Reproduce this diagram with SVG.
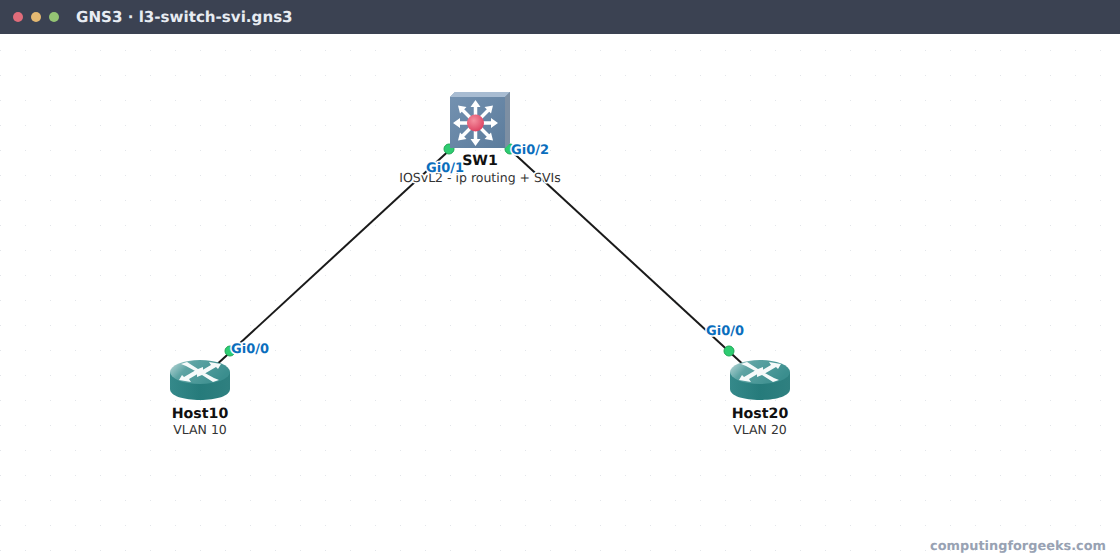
<svg xmlns="http://www.w3.org/2000/svg" width="1120" height="560" viewBox="0 0 1120 560">
<style>
text{font-family:"DejaVu Sans",sans-serif;text-rendering:geometricPrecision}
.name{font-size:14.200px;font-weight:700;fill:#111;text-anchor:middle;stroke:#fff;stroke-width:3px;paint-order:stroke;stroke-linejoin:round}
.sub{font-size:12.500px;fill:#333;text-anchor:middle;stroke:#fff;stroke-width:3px;paint-order:stroke;stroke-linejoin:round}
.port{font-size:13px;font-weight:700;fill:#0a6ebd;stroke:#fff;stroke-width:3px;paint-order:stroke;stroke-linejoin:round}
.link{stroke:#1a1a1a;stroke-width:2;fill:none}
.dot{fill:#2ecc71;stroke:#1fa855;stroke-width:1}
</style>
<defs>
<pattern id="grid" width="25" height="25" patternUnits="userSpaceOnUse" x="0" y="0">
<rect x="0" y="0" width="1" height="1" fill="#e3e6ea"/>
</pattern>
<linearGradient id="swf" x1="0" y1="0" x2="1" y2="1"><stop offset="0" stop-color="#7391b0"/><stop offset="1" stop-color="#5c7c9c"/></linearGradient>
<radialGradient id="red" cx="0.4" cy="0.35" r="0.7"><stop offset="0" stop-color="#f5909f"/><stop offset="1" stop-color="#dc3f5f"/></radialGradient>
<linearGradient id="rt" x1="0" y1="0" x2="1" y2="0"><stop offset="0" stop-color="#35898a"/><stop offset="0.5" stop-color="#267b7b"/><stop offset="1" stop-color="#2f8080"/></linearGradient>
<linearGradient id="rtop" x1="0" y1="0" x2="1" y2="0.4"><stop offset="0" stop-color="#c6dfdf"/><stop offset="0.35" stop-color="#5ea4a4"/><stop offset="1" stop-color="#3b8e8e"/></linearGradient>
<g id="router">
<path d="M-30 -8V9C-30 16 -16 20 0 20S30 16 30 9V-8Z" fill="url(#rt)"/>
<ellipse cx="0" cy="-8" rx="30" ry="12" fill="url(#rtop)"/>
<g fill="#fff" opacity=".95">
<path d="M-19 -16L-13 -18L-2 -11L3 -13L3 -6L-6 -6L-3 -8L-14 -14ZM19 0L13 2L2 -5L-3 -3L-3 -10L6 -10L3 -8L14 -2Z"/>
<path d="M21 -16L9 -18L11 -15L-1 -8L4 -6L16 -13L18 -11ZM-21 0L-9 2L-11 -1L1 -8L-4 -10L-16 -3L-18 -5Z"/>
</g>
</g>
</defs>
<rect width="1120" height="560" fill="#fff"/>
<rect width="1120" height="560" fill="url(#grid)"/>
<rect width="1120" height="34" fill="#3b4252"/>
<circle cx="18" cy="17" r="5" fill="#e06c7a"/>
<circle cx="36" cy="17" r="5" fill="#e5b972"/>
<circle cx="54" cy="17" r="5" fill="#94c474"/>
<text x="76" y="22" font-size="15.100" font-weight="700" fill="#e8ecf2">GNS3 · l3-switch-svi.gns3</text>
<g id="connectors">
<line class="link" x1="480" y1="122" x2="200" y2="380"/>
<line class="link" x1="480" y1="122" x2="760" y2="380"/>
<circle class="dot" cx="449" cy="149" r="5"/>
<circle class="dot" cx="510" cy="149" r="5"/>
<circle class="dot" cx="230" cy="351" r="5"/>
<circle class="dot" cx="729" cy="351" r="5"/>
</g>
<g id="SW1">
<path d="M450 97L455 92H510V143L505 148H450Z" fill="#6f8eae"/>
<path d="M450 97L455 92H510L505 97Z" fill="#a8bcd2"/>
<path d="M505 97L510 92V143L505 148Z" fill="#7d8fa3"/>
<rect x="450" y="97" width="55" height="51" fill="url(#swf)"/>
<g stroke="#fff" stroke-width="3.500" fill="#fff">
<path d="M475.500 123V106M475.500 123V140M475.500 123H458M475.500 123H493M475.500 123L462 109.500M475.500 123L489 109.500M475.500 123L462 136.500M475.500 123L489 136.500"/>
<path stroke="none" d="M475.500 100L470.500 107H480.500ZM475.500 146L470.500 139H480.500ZM453 123L460 118V128ZM498 123L491 118V128ZM458 105.500L466.500 107L460 113.500ZM493 105.500L484.500 107L491 113.500ZM458 140.500L466.500 139L460 132.500ZM493 140.500L484.500 139L491 132.500Z"/>
</g>
<circle cx="475.500" cy="123" r="8.500" fill="url(#red)"/>
<text class="name" x="480" y="165">SW1</text>
<text class="sub" x="480" y="182">IOSvL2 - ip routing + SVIs</text>
<text class="port" x="426" y="172">Gi0/1</text>
<text class="port" x="511" y="154">Gi0/2</text>
</g>
<g id="Host10">
<use href="#router" x="200" y="380"/>
<text class="name" x="200" y="418">Host10</text>
<text class="sub" x="200" y="434">VLAN 10</text>
<text class="port" x="231" y="353">Gi0/0</text>
</g>
<g id="Host20">
<use href="#router" x="760" y="380"/>
<text class="name" x="760" y="418">Host20</text>
<text class="sub" x="760" y="434">VLAN 20</text>
<text class="port" x="706" y="335">Gi0/0</text>
</g>
<text x="1106" y="550" text-anchor="end" font-size="12.900" font-weight="700" fill="#98a2b3">computingforgeeks.com</text>
</svg>
